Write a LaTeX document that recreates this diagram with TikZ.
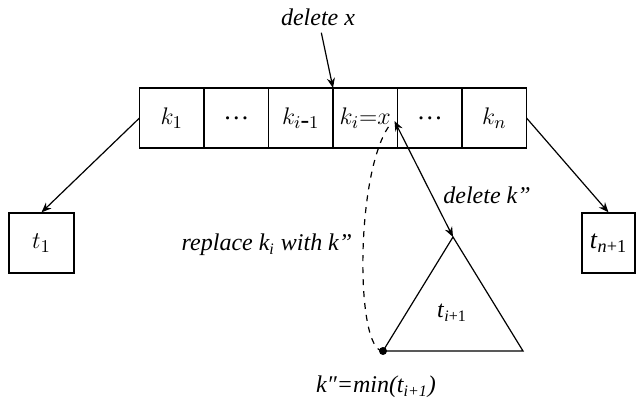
\documentclass[tikz,border=0pt]{standalone}
\usepackage{fontspec}
\setmainfont{Liberation Serif}
\usetikzlibrary{positioning, arrows.meta, calc}

\begin{document}
\begin{tikzpicture}[
        x=0.5pt, y=-0.5pt,
        line width=0.6pt,
        font=\fontsize{12}{14}\selectfont,
        cell/.style={
            rectangle,
            draw,
            inner sep=0pt,
            outer sep=0pt,
            minimum width=32.25pt,
            minimum height=30pt,
            font=\fontsize{13}{15}\selectfont
        },
        leaf/.style={
            rectangle,
            draw,
            inner sep=0pt,
            minimum height=30pt,
            font=\fontsize{13}{15}\selectfont
        },
        lbl/.style={
            font=\fontsize{12}{14}\selectfont\itshape
        },
        arrow/.style={
            -{Stealth[length=5pt, width=4pt]}
        }
    ]

    \useasboundingbox (0,0) rectangle (636,405);

    % --------------------------------------------------------
    % Node keys
    % --------------------------------------------------------

    \node[cell] (k1) at (171.75,118) {$k_1$};
    \node[cell, right=0pt of k1] (dotsa) {\ldots};
    \node[cell, right=0pt of dotsa] (kprev) {$k_{i\mbox{-}1}$};
    \node[cell, right=0pt of kprev] (ki) {$k_i{=}x$};
    \node[cell, right=0pt of ki] (dotsb) {\ldots};
    \node[cell, right=0pt of dotsb] (kn) {$k_n$};

    % Subtrees
    \node[leaf, minimum width=32.5pt] (t1) at (41.5,243) {$t_1$};
    \node[leaf, minimum width=26.5pt] (tlast) at (608.5,243)
        {\textit{t}\textsubscript{\textit{n}+1}};

    % Subtree t_{i+1}
    \coordinate (apex) at (453,237);
    \coordinate (baseL) at (383,351);
    \coordinate (baseR) at (523,351);
    \node (tnext) at (452,313)
        {\textit{t}\textsubscript{\textit{i}+1}};

    % Labels
    \node[lbl] (delx) at (318,17) {delete x};
    \node[lbl] (delk) at (487,195) {delete k''};
    \node[lbl] (repl) at (267,245)
        {replace k\textsubscript{i} with k''};
    \node[lbl] (kmin) at (376,387)
        {k″=min(t\textsubscript{i+1})};

    % --------------------------------------------------------
    % Connectors
    % --------------------------------------------------------

    \draw (apex) -- (baseR) -- (baseL) -- cycle;
    \fill (baseL) circle (4);

    \draw[arrow]
        (k1.west) -- (t1.north);

    \draw[arrow]
        (kn.east) -- (tlast.north);

    \draw[arrow]
        (delx) -- (ki.north west);

    \draw[{Stealth[length=5pt, width=4pt]}-{Stealth[length=5pt, width=4pt]}]
        ($(ki.east)+(-3,3)$) -- (apex);

    % Replacement path
    \draw[dashed]
        (baseL) .. controls (355,351) and (355,170) ..
        ($(ki.east)+(-7,6)$);

\end{tikzpicture}
\end{document}
